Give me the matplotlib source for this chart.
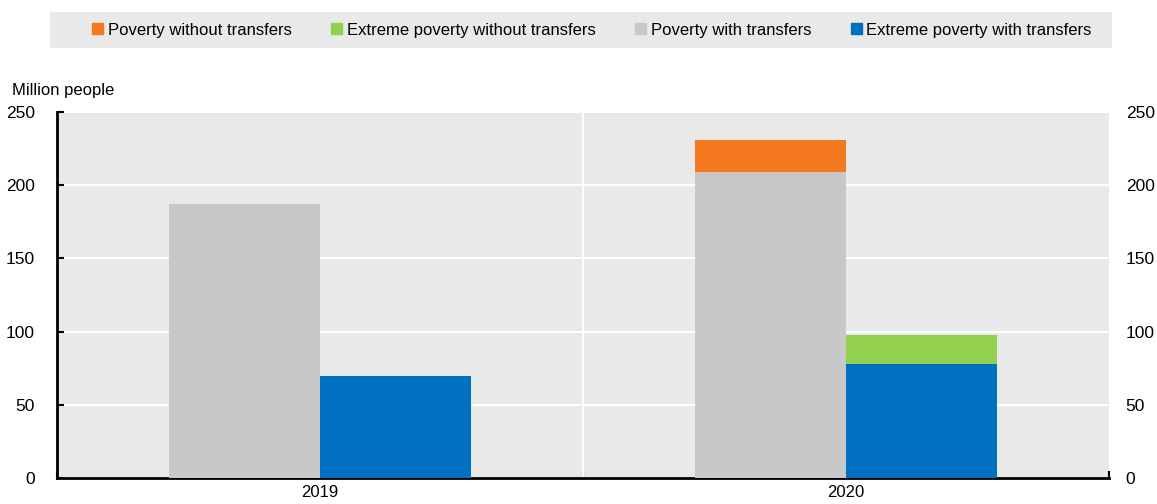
import numpy as np
import matplotlib
matplotlib.use('Agg')
import matplotlib.pyplot as plt
from matplotlib.patches import Rectangle

plt.rcParams['font.family'] = ['Liberation Sans Narrow', 'Liberation Sans', 'DejaVu Sans']
plt.rcParams['font.size'] = 12

years = ['2019', '2020']
poverty_without = [187.5, 231]
extreme_without = [70, 98]
poverty_with = [187.5, 209]
extreme_with = [70, 78]

c_orange = '#f47920'
c_green = '#92d050'
c_gray = '#c8c8c8'
c_blue = '#0070c0'
bg = '#e9e9e9'

W, H = 1157, 504
fig = plt.figure(figsize=(W/100., H/100.), dpi=100)
ax = fig.add_axes([57./W, 1 - 478./H, (1109. - 57.)/W, (478. - 112.)/H])
ax.set_facecolor(bg)

x = np.arange(len(years))
bw = 0.287

# "without transfers" drawn behind, "with transfers" in front
ax.bar(x - bw/2, poverty_without, bw, color=c_orange, zorder=2)
ax.bar(x + bw/2, extreme_without, bw, color=c_green, zorder=2)
ax.bar(x - bw/2, poverty_with, bw, color=c_gray, zorder=3)
ax.bar(x + bw/2, extreme_with, bw, color=c_blue, zorder=3)

ax.set_xlim(-0.5, len(years) - 0.5)
ax.set_ylim(0, 250)
ax.set_yticks(np.arange(0, 251, 50))
ax.yaxis.grid(True, color='white', lw=1.5, zorder=1)
ax.axvline(0.5, color='white', lw=1.5, zorder=1)
ax.set_axisbelow(True)

ax.set_xticks(x)
ax.set_xticklabels(years)
ax.set_xticks([-0.5, 0.5, 1.5], minor=True)
ax.tick_params(axis='x', which='major', length=0, pad=5, labelsize=12)
ax.tick_params(axis='x', which='minor', direction='in', length=5, width=1.5, color='black')
ax.tick_params(axis='y', direction='in', length=5, width=1.5, labelsize=12.5, pad=16)

for s in ['top', 'right']:
    ax.spines[s].set_visible(False)
ax.spines['left'].set_linewidth(2)
ax.spines['bottom'].set_linewidth(2)

ax2 = ax.twinx()
ax2.set_ylim(0, 250)
ax2.set_yticks(np.arange(0, 251, 50))
ax2.tick_params(axis='y', length=0, labelsize=12.5, pad=12)
for s in ax2.spines.values():
    s.set_visible(False)

fig.text(12./W, 1 - 90./H, 'Million people', fontsize=12, va='center', ha='left')

# legend box
fig.patches.append(Rectangle((50./W, 1 - 48./H), (1112. - 50.)/W, 36./H,
                             transform=fig.transFigure, facecolor=bg, edgecolor='none', zorder=0))
handles = [Rectangle((0, 0), 1, 1, color=c) for c in [c_orange, c_green, c_gray, c_blue]]
labels = ['Poverty without transfers', 'Extreme poverty without transfers',
          'Poverty with transfers', 'Extreme poverty with transfers']
fig.legend(handles, labels, loc='center', bbox_to_anchor=(592./W, 1 - 30./H), ncol=4,
           frameon=False, fontsize=12, handlelength=0.66, handleheight=0.66,
           handletextpad=0.25, columnspacing=2.4)

fig.savefig('out.png', dpi=100)
